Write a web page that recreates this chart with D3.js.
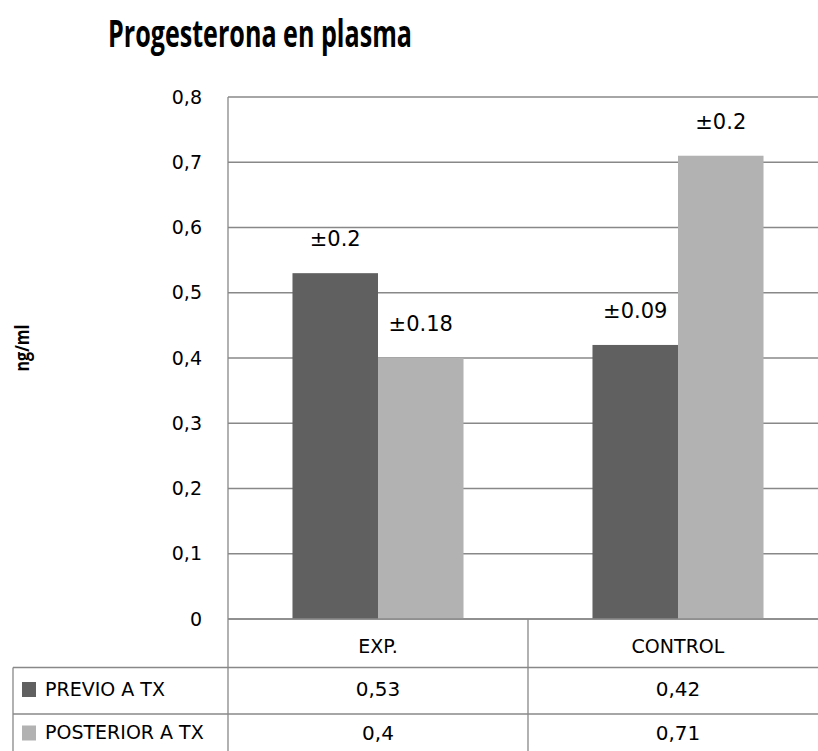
<!DOCTYPE html>
<html>
<head>
<meta charset="utf-8">
<script src="https://cdn.jsdelivr.net/npm/d3@7"></script>
<style>
  body { margin: 0; background: #fff; }
  text { font-family: "DejaVu Sans", sans-serif; fill: #000; }
</style>
</head>
<body>
<svg id="chart" width="818" height="751"></svg>
<script>
/*******************************************************************************************/
// Data

var categories = ['EXP.', 'CONTROL'];
var seriesNames = ['PREVIO A TX', 'POSTERIOR A TX'];
var previo = [0.53, 0.42];
var posterior = [0.40, 0.71];
var errPrevio = ['±0.2', '±0.09'];
var errPosterior = ['±0.18', '±0.2'];
var yTicks = [0, 0.1, 0.2, 0.3, 0.4, 0.5, 0.6, 0.7, 0.8];
var colors = ['#606060', '#b2b2b2'];

/*******************************************************************************************/
// Layout

var svg = d3.select('#chart');
var plotLeft = 228, plotRight = 828, plotTop = 97, plotBottom = 619;
var rowLines = [619, 667.5, 714];
var tableLeft = 13;

var yScale = d3.scaleLinear().domain([0, 0.8]).range([plotBottom, plotTop]);
var xScale = d3.scaleBand().domain(categories).range([plotLeft, plotRight]);
var xSub = d3.scaleBand().domain(seriesNames).range([0, xScale.bandwidth()]).paddingOuter(0.754);

var rows = categories.map(function(c, i){
  return { cat: c, values: [
    { s: seriesNames[0], v: previo[i], err: errPrevio[i], color: colors[0] },
    { s: seriesNames[1], v: posterior[i], err: errPosterior[i], color: colors[1] }
  ] };
});

/*******************************************************************************************/
// Title (bold face squeezed to the original width)

svg.append('text').attr('x', 108).attr('y', 47)
  .attr('textLength', 304).attr('lengthAdjust', 'spacingAndGlyphs')
  .style('font-family', '"Open Sans", sans-serif')
  .style('font-weight', 'bold').style('font-size', '37px')
  .text('Progesterona en plasma');

/*******************************************************************************************/
// Gridlines and axis

svg.append('g').selectAll('line').data(yTicks).enter().append('line')
  .attr('x1', plotLeft).attr('x2', 818)
  .attr('y1', function(d){ return yScale(d) }).attr('y2', function(d){ return yScale(d) })
  .style('stroke', '#888').style('stroke-width', 1.3);

var fmt = function(d){ return d === 0 ? '0' : d3.format('.1f')(d).replace('.', ','); };
var yAxis = svg.append('g').attr('transform', 'translate(' + plotLeft + ',0)')
  .call(d3.axisLeft(yScale).tickValues(yTicks).tickSize(0).tickPadding(26).tickFormat(fmt));
yAxis.select('.domain').remove();
yAxis.selectAll('text').style('font-size', '19px').style('font-family', '"DejaVu Sans", sans-serif').attr('fill', '#000');

svg.append('text')
  .attr('transform', 'translate(29,' + 348 + ') rotate(-90)')
  .attr('textLength', 47).attr('lengthAdjust', 'spacingAndGlyphs')
  .style('text-anchor', 'middle').style('font-weight', 'bold').style('font-size', '19px')
  .style('font-family', '"Open Sans", sans-serif')
  .text('ng/ml');

/*******************************************************************************************/
// Bars

var groups = svg.append('g').selectAll('g').data(rows).enter().append('g')
  .attr('transform', function(d){ return 'translate(' + xScale(d.cat) + ',0)' });

groups.selectAll('rect').data(function(d){ return d.values }).enter().append('rect')
  .attr('x', function(d){ return xSub(d.s) })
  .attr('width', xSub.bandwidth())
  .attr('y', function(d){ return yScale(d.v) })
  .attr('height', function(d){ return plotBottom - yScale(d.v) })
  .style('fill', function(d){ return d.color });

groups.selectAll('text').data(function(d){ return d.values }).enter().append('text')
  .attr('x', function(d){ return xSub(d.s) + xSub.bandwidth() / 2 })
  .attr('y', function(d){ return yScale(d.v) - 27 })
  .style('text-anchor', 'middle').style('font-size', '21px')
  .text(function(d){ return d.err });

/*******************************************************************************************/
// Data table

var tbl = svg.append('g').style('stroke', '#888').style('stroke-width', 1.3);
tbl.append('line').attr('x1', plotLeft).attr('x2', plotLeft).attr('y1', plotTop).attr('y2', 751);
tbl.append('line').attr('x1', xScale(categories[1])).attr('x2', xScale(categories[1])).attr('y1', plotBottom).attr('y2', 751);
tbl.append('line').attr('x1', plotLeft).attr('x2', 818).attr('y1', rowLines[0]).attr('y2', rowLines[0]);
tbl.append('line').attr('x1', tableLeft).attr('x2', 818).attr('y1', rowLines[1]).attr('y2', rowLines[1]);
tbl.append('line').attr('x1', tableLeft).attr('x2', 818).attr('y1', rowLines[2]).attr('y2', rowLines[2]);
tbl.append('line').attr('x1', tableLeft).attr('x2', tableLeft).attr('y1', rowLines[1]).attr('y2', 751);

svg.append('g').selectAll('text').data(categories).enter().append('text')
  .attr('x', function(d){ return xScale(d) + xScale.bandwidth() / 2 })
  .attr('y', 646).attr('dy', '0.36em')
  .style('text-anchor', 'middle').style('font-size', '19px')
  .text(function(d){ return d });

var rowY = [689, 732.5];
var seriesVals = [previo, posterior];
seriesNames.forEach(function(s, i){
  svg.append('rect').attr('x', 22).attr('y', rowY[i] - 7).attr('width', 14).attr('height', 15).style('fill', colors[i]);
  svg.append('text').attr('x', 45).attr('y', rowY[i]).attr('dy', '0.36em')
    .style('font-size', '19px').text(s);
  svg.append('g').selectAll('text').data(categories).enter().append('text')
    .attr('x', function(d){ return xScale(d) + xScale.bandwidth() / 2 })
    .attr('y', rowY[i]).attr('dy', '0.36em')
    .style('text-anchor', 'middle').style('font-size', '20px')
    .text(function(d, j){ return String(seriesVals[i][j]).replace('.', ',') });
});
</script>
</body>
</html>
